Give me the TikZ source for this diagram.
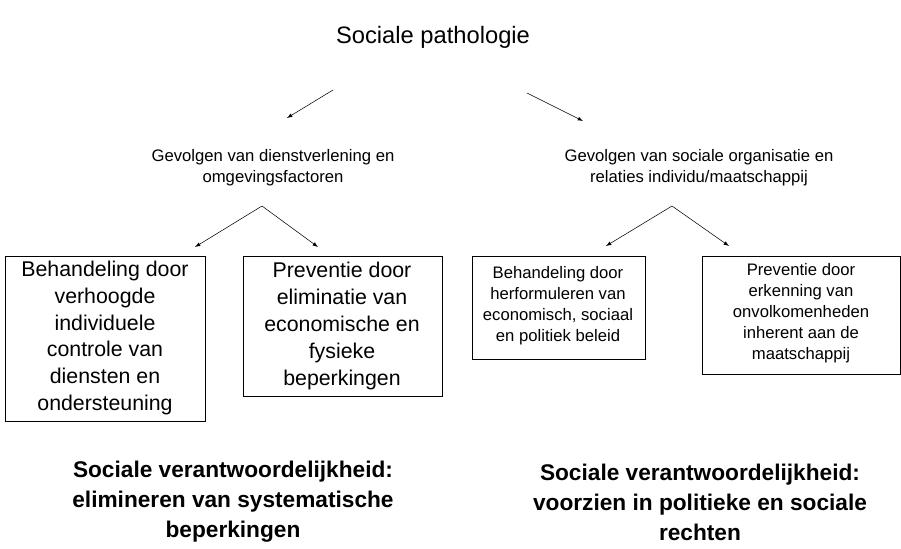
\documentclass[tikz,border=0pt]{standalone}
\usepackage{fontspec}
\setmainfont{Liberation Sans}
\begin{document}
\begin{tikzpicture}[x=0.75pt,y=-0.75pt,
  box/.style={draw,semithick,inner sep=0pt},
  arr/.style={-latex,thin},
  txt/.style={align=center,inner sep=0pt}]
\useasboundingbox (0,0) rectangle (901,549);
\node[txt,font=\fontsize{17.8}{20}\selectfont] (t) at (433,37) {Sociale pathologie};
\node[txt,font=\fontsize{12.5}{15.8}\selectfont] (g1) at (273,168) {Gevolgen van dienstverlening en\\omgevingsfactoren};
\node[txt,font=\fontsize{12.5}{15.8}\selectfont] (g2) at (699,168) {Gevolgen van sociale organisatie en\\relaties individu/maatschappij};
\coordinate (a1s) at (333,90); \coordinate (a1e) at (287,118);
\coordinate (a2s) at (527,93); \coordinate (a2e) at (583,121);
\draw[arr] (a1s) -- (a1e);
\draw[arr] (a2s) -- (a2e);
\draw[box] (5,256) rectangle (205,421);
\draw[box] (243,256) rectangle (442,396);
\draw[box] (472,256) rectangle (645,359);
\draw[box] (702,256) rectangle (900,374);
\node[txt,font=\fontsize{16}{20.2}\selectfont] (b1) at (105,338) {Behandeling door\\verhoogde\\individuele\\controle van\\diensten en\\ondersteuning};
\node[txt,font=\fontsize{16}{20.2}\selectfont] (b2) at (342,326) {Preventie door\\eliminatie van\\economische en\\fysieke\\beperkingen};
\node[txt,font=\fontsize{12.5}{15.8}\selectfont] (b3) at (558,306) {Behandeling door\\herformuleren van\\economisch, sociaal\\en politiek beleid};
\node[txt,font=\fontsize{12.5}{15.8}\selectfont] (b4) at (801,313) {Preventie door\\erkenning van\\onvolkomenheden\\inherent aan de\\maatschappij};
\coordinate (l) at (262,206); \coordinate (r) at (672,206);
\draw[arr] (l) -- (195,247);
\draw[arr] (l) -- (318,247);
\draw[arr] (r) -- (606,246);
\draw[arr] (r) -- (729,246);
\node[txt,font=\bfseries\fontsize{17}{22.5}\selectfont] (s1) at (233,502) {Sociale verantwoordelijkheid:\\elimineren van systematische\\beperkingen};
\node[txt,font=\bfseries\fontsize{17}{22.5}\selectfont] (s2) at (700,502) {Sociale verantwoordelijkheid:\\voorzien in politieke en sociale\\rechten};
\end{tikzpicture}
\end{document}
